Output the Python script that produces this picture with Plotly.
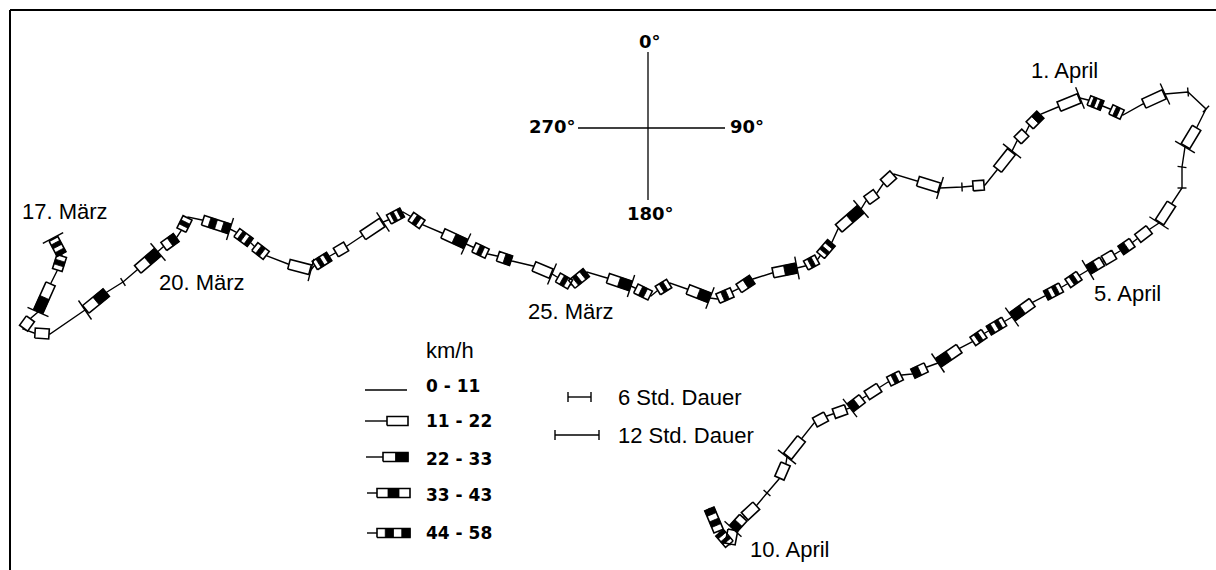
import math
import plotly.graph_objects as go

# Luftbahn vom 17. März bis 10. April: Bahnpunkte (Ost, Süd) in Zeichnungseinheiten
bahn_x = [53, 62, 57, 51, 38, 31, 23, 34, 50, 85,
          107, 123, 137, 158, 163, 177, 181, 188, 202, 230,
          236, 251, 254, 267, 288, 311, 314, 330, 335, 347,
          362, 383, 388, 403, 410, 423, 442, 466, 473, 488,
          497, 512, 533, 552, 557, 571, 587, 607, 631, 635,
          651, 657, 670, 687, 710, 717, 733, 738, 753, 772,
          797, 805, 818, 820, 832, 838, 861, 866, 877, 883,
          894, 917, 940, 962, 972, 985, 997, 1012, 1017, 1026,
          1029, 1041, 1058, 1080, 1088, 1103, 1110, 1123, 1143, 1165,
          1188, 1206, 1197, 1185, 1182, 1182, 1172, 1159, 1150, 1137,
          1133, 1120, 1115, 1103, 1088, 1080, 1067, 1062, 1045, 1033,
          1012, 1005, 988, 985, 972, 960, 938, 927, 912, 902,
          888, 880, 866, 863, 850, 847, 833, 827, 814, 802,
          787, 786, 779, 767, 757, 744, 733, 730, 719, 709]
bahn_y = [238, 255, 271, 283, 312, 318, 329, 333, 334, 310,
          292, 282, 270, 252, 247, 237, 231, 217, 220, 229,
          232, 243, 246, 256, 264, 270, 266, 256, 253, 246,
          236, 222, 220, 212, 216, 225, 233, 244, 247, 254,
          256, 261, 266, 274, 277, 285, 272, 278, 286, 288,
          296, 291, 283, 289, 298, 299, 292, 289, 279, 273,
          268, 266, 259, 256, 242, 229, 209, 201, 193, 184,
          174, 181, 188, 187, 186, 185, 170, 151, 141, 132,
          126, 114, 107, 98, 100, 106, 109, 115, 104, 94,
          92, 109, 127, 147, 167, 188, 203, 223, 229, 239,
          242, 251, 254, 261, 270, 275, 284, 287, 296, 302,
          317, 321, 331, 333, 342, 348, 363, 367, 374, 375,
          382, 387, 396, 398, 408, 409, 414, 416, 423, 438,
          457, 463, 479, 493, 505, 517, 529, 545, 532, 508]

# Windklasse je Teilstück (0: 0-11, 1: 11-22, 2: 22-33, 3: 33-43, 4: 44-58 km/h)
klasse = [4, 3, 0, 2, 0, 1, 0, 1, 0, 2,
          0, 0, 2, 0, 2, 0, 3, 0, 4, 0,
          4, 0, 3, 0, 1, 0, 4, 0, 1, 0,
          1, 0, 4, 0, 3, 0, 2, 0, 3, 0,
          2, 0, 1, 0, 3, 4, 0, 2, 0, 3,
          0, 3, 0, 2, 0, 3, 0, 2, 0, 2,
          0, 3, 0, 4, 0, 2, 0, 1, 0, 1,
          0, 1, 0, 0, 1, 0, 1, 0, 1, 0,
          2, 0, 1, 0, 4, 0, 3, 0, 1, 0,
          0, 0, 1, 0, 0, 0, 1, 0, 1, 0,
          2, 0, 1, 2, 0, 3, 0, 4, 0, 2,
          0, 4, 0, 3, 0, 2, 0, 2, 0, 3,
          0, 1, 0, 2, 0, 1, 0, 1, 0, 1,
          0, 1, 0, 0, 1, 2, 1, 4, 4]

# Zeitmarken an Bahnpunkten
marken_12h = [0, 4, 9, 13, 19, 25, 31, 37, 43, 48, 54, 60, 66, 72, 77, 83,
              89, 93, 97, 104, 110, 116, 124, 130, 136]
marken_6h = [11, 73, 90, 91, 94, 95, 133]

# Beschriftung der Bahn
datum_text = ["17. März", "20. März", "25. März", "1. April", "5. April", "10. April"]
datum_x = [65, 202, 571, 1064, 1127, 790]
datum_y = [211, 282, 311, 70, 293, 549]

legende_titel = "km/h"
legende_klassen = ["0 - 11", "11 - 22", "22 - 33", "33 - 43", "44 - 58"]
dauer_text = ["6 Std. Dauer", "12 Std. Dauer"]
kompass_text = ["0°", "90°", "180°", "270°"]

# Musterfolge je Klasse (w = weiß, b = schwarz)
MUSTER = {1: "w", 2: "wb", 3: "wbw", 4: "wbwb"}
HALB = 5.0          # halbe Kästchenbreite
EINZUG = 1.0        # Abstand der Kästchen von den Knoten

weiss_x, weiss_y, schwarz_x, schwarz_y, rand_x, rand_y = [], [], [], [], [], []


def kaestchen(x0, y0, x1, y1, kl, einzug=EINZUG, halb=HALB):
    dx, dy = x1 - x0, y1 - y0
    L = math.hypot(dx, dy)
    if L == 0:
        return
    ux, uy = dx / L, dy / L
    nx, ny = -uy, ux
    a = einzug
    b = L - einzug
    muster = MUSTER[kl]
    n = len(muster)
    for i, c in enumerate(muster):
        s0 = a + (b - a) * i / n
        s1 = a + (b - a) * (i + 1) / n
        px = [x0 + ux * s0 + nx * halb, x0 + ux * s1 + nx * halb,
              x0 + ux * s1 - nx * halb, x0 + ux * s0 - nx * halb]
        py = [y0 + uy * s0 + ny * halb, y0 + uy * s1 + ny * halb,
              y0 + uy * s1 - ny * halb, y0 + uy * s0 - ny * halb]
        if c == "w":
            weiss_x.extend(px + [px[0], None]); weiss_y.extend(py + [py[0], None])
        else:
            schwarz_x.extend(px + [px[0], None]); schwarz_y.extend(py + [py[0], None])
    px = [x0 + ux * a + nx * halb, x0 + ux * b + nx * halb,
          x0 + ux * b - nx * halb, x0 + ux * a - nx * halb]
    py = [y0 + uy * a + ny * halb, y0 + uy * b + ny * halb,
          y0 + uy * b - ny * halb, y0 + uy * a - ny * halb]
    rand_x.extend(px + [px[0], None]); rand_y.extend(py + [py[0], None])


for i, kl in enumerate(klasse):
    if kl > 0:
        kaestchen(bahn_x[i], bahn_y[i], bahn_x[i + 1], bahn_y[i + 1], kl)

# Zeitmarken quer zur Bahn
marke_x, marke_y = [], []
for idx_liste, halb in ((marken_12h, 11.5), (marken_6h, 4.5)):
    for k in idx_liste:
        if k == 0:
            dx, dy = bahn_x[1] - bahn_x[0], bahn_y[1] - bahn_y[0]
        else:
            dx, dy = bahn_x[k] - bahn_x[k - 1], bahn_y[k] - bahn_y[k - 1]
        L = math.hypot(dx, dy)
        nx, ny = -dy / L, dx / L
        marke_x.extend([bahn_x[k] + nx * halb, bahn_x[k] - nx * halb, None])
        marke_y.extend([bahn_y[k] + ny * halb, bahn_y[k] - ny * halb, None])

# Legende (Zeichenposition)
leg_linie = []
leg_y = [390, 421, 457, 493, 533]
leg_start = [365, 365, 366, 367, 367]
leg_kasten = [None, 387, 383, 377, 377]
leg_ende = [407, 408, 408, 410, 410]
for j in range(5):
    if leg_kasten[j] is None:
        leg_linie.append((leg_start[j], leg_ende[j], leg_y[j]))
    else:
        leg_linie.append((leg_start[j], leg_kasten[j], leg_y[j]))
        kaestchen(leg_kasten[j], leg_y[j], leg_ende[j], leg_y[j], j, einzug=0, halb=4.5)

linie_x, linie_y = [], []
for x0, x1, y in leg_linie:
    linie_x.extend([x0, x1, None]); linie_y.extend([y, y, None])
# Dauer-Symbole
for x0, x1, y in ((568, 591, 397), (555, 599, 435)):
    linie_x.extend([x0, x1, None, x0, x0, None, x1, x1, None])
    linie_y.extend([y, y, None, y - 5, y + 5, None, y - 5, y + 5, None])

fig = go.Figure()
fig.add_trace(go.Scatter(x=bahn_x, y=bahn_y, mode="lines",
                         line=dict(color="black", width=1.4), hoverinfo="skip"))
fig.add_trace(go.Scatter(x=linie_x, y=linie_y, mode="lines",
                         line=dict(color="black", width=1.4), hoverinfo="skip"))
fig.add_trace(go.Scatter(x=weiss_x, y=weiss_y, mode="lines", fill="toself",
                         fillcolor="white", line=dict(color="white", width=0),
                         hoverinfo="skip"))
fig.add_trace(go.Scatter(x=schwarz_x, y=schwarz_y, mode="lines", fill="toself",
                         fillcolor="black", line=dict(color="black", width=0.8),
                         hoverinfo="skip"))
fig.add_trace(go.Scatter(x=rand_x, y=rand_y, mode="lines",
                         line=dict(color="black", width=1.6), hoverinfo="skip"))
fig.add_trace(go.Scatter(x=marke_x, y=marke_y, mode="lines",
                         line=dict(color="black", width=1.4), hoverinfo="skip"))

schrift = "Arial, Liberation Sans, sans-serif"
fett = "DejaVu Sans, Arial, sans-serif"
ann = []
for t, x, y in zip(datum_text, datum_x, datum_y):
    ann.append(dict(x=x, y=y, text=t, xanchor="center", yanchor="middle",
                    font=dict(family=schrift, size=22, color="black")))
ann.append(dict(x=450, y=350, text=legende_titel, xanchor="center", yanchor="middle",
                font=dict(family=schrift, size=22, color="black")))
for t, y in zip(legende_klassen, [386, 421, 459, 495, 533]):
    ann.append(dict(x=424, y=y, text="<b>" + t + "</b>", xanchor="left", yanchor="middle",
                    font=dict(family=fett, size=17, color="black")))
for t, y in zip(dauer_text, [397, 435]):
    ann.append(dict(x=616, y=y, text=t, xanchor="left", yanchor="middle",
                    font=dict(family=schrift, size=22, color="black")))

# Windrose
kx, ky = 648, 128
ann.append(dict(x=kx + 2, y=41, text="<b>" + kompass_text[0] + "</b>", xanchor="center",
                yanchor="middle", font=dict(family=fett, size=18, color="black")))
ann.append(dict(x=728, y=126, text="<b>" + kompass_text[1] + "</b>", xanchor="left",
                yanchor="middle", font=dict(family=fett, size=18, color="black")))
ann.append(dict(x=kx + 2, y=213, text="<b>" + kompass_text[2] + "</b>", xanchor="center",
                yanchor="middle", font=dict(family=fett, size=18, color="black")))
ann.append(dict(x=578, y=126, text="<b>" + kompass_text[3] + "</b>", xanchor="right",
                yanchor="middle", font=dict(family=fett, size=18, color="black")))
for a in ann:
    a["showarrow"] = False
    a["xref"] = "x"
    a["yref"] = "y"

shapes = [
    dict(type="line", x0=kx, x1=kx, y0=52, y1=200, line=dict(color="black", width=1.3)),
    dict(type="line", x0=578, x1=725, y0=ky, y1=ky, line=dict(color="black", width=1.3)),
    # Rahmen
    dict(type="line", x0=10, x1=1216, y0=10, y1=10, line=dict(color="black", width=2)),
    dict(type="line", x0=10, x1=10, y0=10, y1=570, line=dict(color="black", width=2)),
]

fig.update_layout(
    width=1216, height=570,
    margin=dict(l=0, r=0, t=0, b=0),
    paper_bgcolor="white", plot_bgcolor="white",
    showlegend=False,
    xaxis=dict(range=[0, 1216], visible=False, fixedrange=True),
    yaxis=dict(range=[570, 0], visible=False, fixedrange=True),
    annotations=ann, shapes=shapes,
)
fig.write_html("out.html")
